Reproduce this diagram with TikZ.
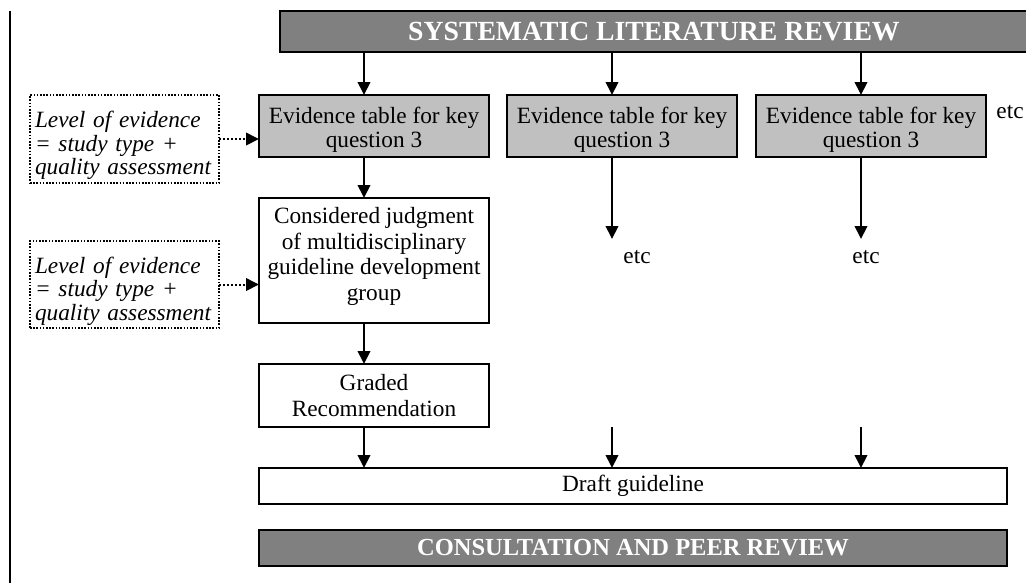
\documentclass[tikz,border=0pt]{standalone}
\usepackage{fontspec}
\setmainfont{Liberation Serif}
\usetikzlibrary{arrows.meta}

\definecolor{bargray}{RGB}{128,128,128}
\definecolor{evgray}{RGB}{192,192,192}

\begin{document}
\begin{tikzpicture}[x=1pt,y=-1pt,
  every node/.style={inner sep=0pt, outer sep=0pt},
  txt/.style={font=\fontsize{23.3}{23.5}\selectfont},
  box/.style={draw=black, line width=2.3pt, align=center, txt},
  evbox/.style={box, fill=evgray, minimum width=230pt, minimum height=62pt, text height=47.5pt},
  bigbar/.style={draw=black, line width=2.3pt, fill=bargray, text=white},
  dotbox/.style={draw=black, line width=1.6pt, dash pattern=on 1.6pt off 1.6pt,
    align=left, inner xsep=5pt, text width=179pt, minimum width=189pt,
    text height=30pt, font=\fontsize{23.3}{23.5}\selectfont\itshape},
  arr/.style={line width=2pt, -{Triangle[length=13pt,width=12.5pt]}},
  dotarr/.style={arr, dash pattern=on 2pt off 2pt}
]
\path[use as bounding box, clip] (0,0) rectangle (1026,582);

% margin rule on the left
\draw[line width=2.2pt] (10,11) -- (10,590);

% column positions of the vertical connectors
\coordinate (c1) at (364,0);
\coordinate (c2) at (612,0);
\coordinate (c3) at (861,0);

% banners
\node[bigbar, minimum width=748pt, minimum height=41pt,
      font=\fontsize{27.7}{28}\selectfont\bfseries] (slr) at (654,31.5)
      {SYSTEMATIC LITERATURE REVIEW};
\node[bigbar, minimum width=748pt, minimum height=36pt,
      font=\fontsize{24.5}{25}\selectfont\bfseries] (cpr) at (633,548)
      {CONSULTATION AND PEER REVIEW};

% evidence tables
\node[evbox] (ev1) at (374,126) {Evidence table for key\\question 3};
\node[evbox] (ev2) at (622,126) {Evidence table for key\\question 3};
\node[evbox] (ev3) at (871,126) {Evidence table for key\\question 3};
\node[txt, anchor=base] (etc1) at (1010,118) {etc};

% level-of-evidence notes
\node[dotbox, minimum height=88pt] (lv1) at (124.5,139)
  {Level of evidence\\= study type +\\quality assessment};
\node[dotbox, minimum height=87pt] (lv2) at (124.5,284.5)
  {Level of evidence\\= study type +\\quality assessment};

% judgment and recommendation
\node[box, font=\fontsize{23.3}{25.5}\selectfont, minimum width=230pt, minimum height=125pt,
      text depth=13pt] (cj) at (374,260.5)
  {Considered judgment\\of multidisciplinary\\guideline development\\group};
\node[box, font=\fontsize{23.3}{25.5}\selectfont, minimum width=230pt, minimum height=63pt]
  (gr) at (374,395.5) {Graded\\Recommendation};

% draft guideline
\node[box, minimum width=748pt, minimum height=36pt] (dr) at (633,486) {Draft guideline};

% "etc" under the other columns
\node[txt, anchor=base] (etc2) at (637,263) {etc};
\node[txt, anchor=base] (etc3) at (866,263) {etc};
\coordinate (e2) at (612,239);
\coordinate (e3) at (861,239);
\coordinate (s2) at (612,427);
\coordinate (s3) at (861,427);

% connectors
\draw[arr] (slr.south -| c1) -- (ev1.north -| c1);
\draw[arr] (slr.south -| c2) -- (ev2.north -| c2);
\draw[arr] (slr.south -| c3) -- (ev3.north -| c3);
\draw[arr] (ev1.south -| c1) -- (cj.north -| c1);
\draw[arr] (cj.south -| c1) -- (gr.north -| c1);
\draw[arr] (gr.south -| c1) -- (dr.north -| c1);
\draw[arr] (ev2.south -| c2) -- (e2);
\draw[arr] (ev3.south -| c3) -- (e3);
\draw[arr] (s2) -- (dr.north -| c2);
\draw[arr] (s3) -- (dr.north -| c3);
\draw[dotarr] (lv1.east) -- (lv1.east -| ev1.west);
\draw[dotarr] (lv2.east) -- (lv2.east -| cj.west);
\end{tikzpicture}
\end{document}
